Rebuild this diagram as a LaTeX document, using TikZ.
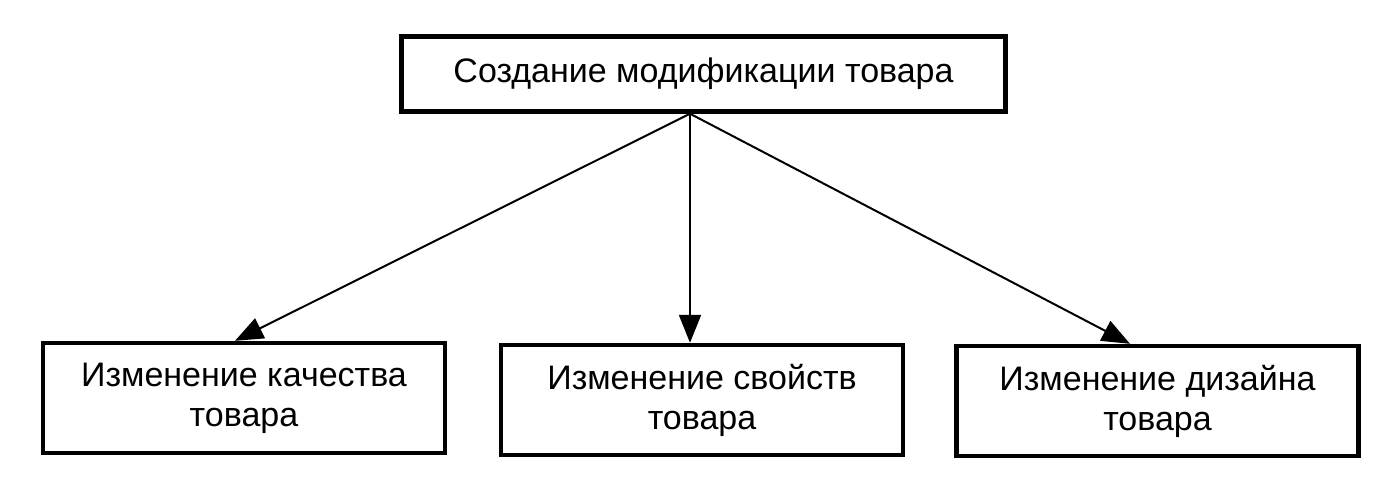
\documentclass[tikz,border=0pt]{standalone}
\usepackage{fontspec}
\setmainfont{Liberation Sans}
\usetikzlibrary{arrows.meta}

\begin{document}
\begin{tikzpicture}[x=0.5pt,y=0.5pt,yscale=-1,xscale=1,
  mainbox/.style={draw,line width=2.2pt,minimum width=302pt,minimum height=37.5pt,inner sep=0pt,font=\fontsize{17}{20}\selectfont},
  subbox/.style={draw,line width=2.2pt,minimum width=201pt,minimum height=55pt,inner sep=0pt,align=center,font=\fontsize{17}{20}\selectfont},
  link/.style={line width=1pt,-{Triangle[length=14pt,width=11pt]}}]
\useasboundingbox (0,0) rectangle (1398,483);
\node[mainbox] (modif) at (703.5,74) {Создание модификации товара};
\node[subbox] (kach) at (244,398) {Изменение качества\\товара};
\node[subbox] (svoj) at (702,400) {Изменение свойств\\товара};
\node[subbox] (dizn) at (1157.5,401) {Изменение дизайна\\товара};
\coordinate (fork) at ([xshift=-6.75pt]modif.south);
\draw[link] (fork) -- ([xshift=-4.5pt]kach.north);
\draw[link] (fork) -- ([xshift=-6pt]svoj.north);
\draw[link] (fork) -- ([xshift=-13.75pt]dizn.north);
\end{tikzpicture}
\end{document}
